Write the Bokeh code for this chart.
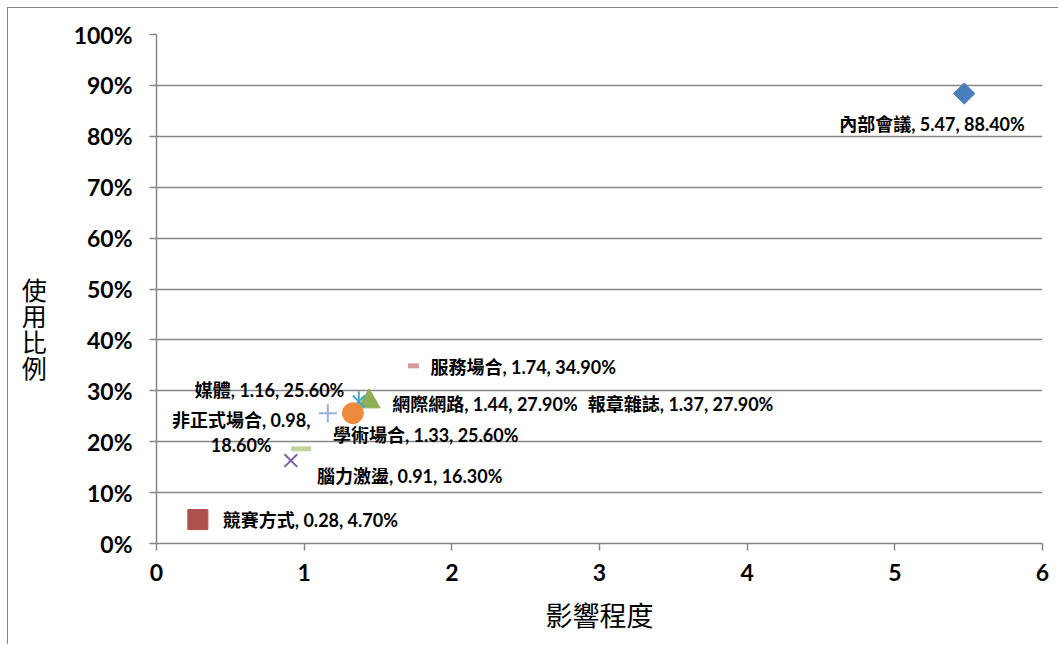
from bokeh.plotting import figure
from bokeh.models import ColumnDataSource, NumeralTickFormatter, FixedTicker, Range1d
from bokeh.core.properties import value
from bokeh.embed import file_html
from bokeh.resources import INLINE

# Channels: influence score vs. share of respondents using them
channels = ["內部會議", "競賽方式", "網際網路", "腦力激盪", "報章雜誌",
            "學術場合", "媒體", "非正式場合", "服務場合"]
impact = [5.47, 0.28, 1.44, 0.91, 1.37, 1.33, 1.16, 0.98, 1.74]
usage = [0.884, 0.047, 0.279, 0.163, 0.279, 0.256, 0.256, 0.186, 0.349]

x_ticks = [0, 1, 2, 3, 4, 5, 6]
y_ticks = [0.0, 0.1, 0.2, 0.3, 0.4, 0.5, 0.6, 0.7, 0.8, 0.9, 1.0]

# marker styling per channel: (marker, size, color, line_width, angle)
marker_style = {
    "內部會議": ("square", 15, "#4A7EBB", 1, 0.7854),
    "競賽方式": ("square", 20, "#B0504D", 1, 0),
    "網際網路": ("triangle", 22, "#8FAF54", 1, 0),
    "腦力激盪": ("x", 18, "#7D60A0", 2, 0),
    "報章雜誌": ("x", 17, "#46AAC5", 2, 0),
    "學術場合": ("circle", 21, "#EE8A3C", 1, 0),
    "媒體": ("cross", 18, "#95B0D9", 2, 0),
    "非正式場合": ("dash", 20, "#BFD59A", 5, 0),
    "服務場合": ("dash", 11, "#D9989A", 5, 0),
}

# label placement relative to the marker (pixels, y down) and alignment
label_place = {
    "內部會議": (-125, 30, "left"),
    "競賽方式": (25, 0, "left"),
    "網際網路": (23, 3, "left"),
    "腦力激盪": (26, 15, "left"),
    "報章雜誌": (229, 3, "left"),
    "學術場合": (-20, 22, "left"),
    "媒體": (-133, -23, "left"),
    "非正式場合": (-60, -16, "center"),
    "服務場合": (17, 1, "left"),
}

FONT = "Lato, 'Noto Sans CJK TC', sans-serif"
CJK = "'Noto Sans CJK TC', sans-serif"
GRAY = "#868686"

p = figure(width=1051, height=637, output_backend="svg", toolbar_location=None,
           x_range=Range1d(0, 6), y_range=Range1d(0, 1),
           min_border_left=148, min_border_right=17,
           min_border_top=26, min_border_bottom=102)
p.styles = {"margin-left": "7px", "margin-top": "7px",
            "border-left": f"1px solid {GRAY}", "border-top": f"1px solid {GRAY}"}
p.outline_line_color = None
p.background_fill_color = "white"
p.border_fill_color = "white"

p.xgrid.grid_line_color = None
p.ygrid.grid_line_color = GRAY
p.ygrid.grid_line_width = 1.5

p.xaxis.ticker = FixedTicker(ticks=x_ticks)
p.yaxis.ticker = FixedTicker(ticks=y_ticks)
p.yaxis.formatter = NumeralTickFormatter(format="0%")
for ax in (p.xaxis, p.yaxis):
    ax.axis_line_color = GRAY
    ax.axis_line_width = 1.5
    ax.major_tick_line_color = GRAY
    ax.major_tick_line_width = 1.5
    ax.major_tick_out = 7
    ax.major_tick_in = 0
    ax.minor_tick_line_color = None
    ax.major_label_text_font = FONT
    ax.major_label_text_font_style = "bold"
    ax.major_label_text_font_size = "23px"
    ax.major_label_text_color = "black"
    ax.axis_label_text_font = CJK
    ax.axis_label_text_font_style = "normal"
    ax.axis_label_text_color = "black"
p.yaxis.major_label_standoff = 17
p.xaxis.major_label_standoff = 13

p.xaxis.axis_label = "影響程度"
p.xaxis.axis_label_text_font_size = "27px"
p.xaxis.axis_label_standoff = 11

# upright, stacked axis title on the left (blank lead lines push it lower)
p.yaxis.axis_label = "\n\n\n使\n用\n比\n例"
p.yaxis.axis_label_orientation = "horizontal"
p.yaxis.axis_label_text_font_size = "25px"
p.yaxis.axis_label_standoff = 24
p.yaxis.axis_label_text_line_height = 0.72

for name, xv, yv in zip(channels, impact, usage):
    marker, size, color, lw, ang = marker_style[name]
    src = ColumnDataSource(dict(x=[xv], y=[yv]))
    if name == "報章雜誌":
        # star marker: an x crossed by a vertical stroke
        p.scatter("x", "y", source=src, marker="x", size=size,
                  line_color=color, line_width=lw)
        p.scatter("x", "y", source=src, marker="dash", size=size * 1.2,
                  angle=1.5708, line_color=color, line_width=lw)
    elif marker in ("x", "cross", "dash"):
        p.scatter("x", "y", source=src, marker=marker, size=size,
                  line_color=color, line_width=lw)
    else:
        p.scatter("x", "y", source=src, marker=marker, size=size, angle=ang,
                  fill_color=color, line_color=color, line_width=lw)

    dx, dy, align = label_place[name]
    text = f"{name}, {xv:.2f}, {yv * 100:.2f}%"
    if name == "非正式場合":
        text = f"{name}, {xv:.2f},\n{yv * 100:.2f}%"
    p.text(x=[xv], y=[yv], text=[text], x_offset=dx, y_offset=dy,
           text_font=value(FONT), text_font_style="bold",
           text_font_size="18px", text_align=align,
           text_baseline="middle", text_color="black",
           text_line_height=1.15)

open("out.html", "w").write(file_html(p, INLINE))
